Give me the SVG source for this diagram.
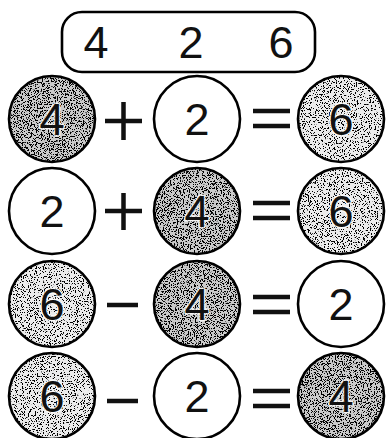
<svg xmlns="http://www.w3.org/2000/svg" width="386" height="438" viewBox="0 0 386 438">
<style>
.ring{fill:none;stroke:#000;stroke-width:2.6}
.bg{fill:#fff}
.dk{fill:#cacaca}
.lt{fill:#ebebeb}
.num{font-family:"Liberation Sans",Arial,sans-serif;font-size:45px;text-anchor:middle;fill:#111}
.halo{stroke:#fff;stroke-width:3;paint-order:stroke;stroke-linejoin:round;stroke-opacity:0.8}
.op{stroke:#111;stroke-width:4.5;fill:none}
</style>
<defs>
<filter id="sd" x="0" y="0" width="1" height="1">
<feTurbulence type="fractalNoise" baseFrequency="0.85" numOctaves="2" seed="4" result="n"/>
<feColorMatrix in="n" type="matrix" values="0 0 0 0 0 0 0 0 0 0 0 0 0 0 0 -30 0 0 0 13.7" result="d"/>
<feComposite in="d" in2="SourceGraphic" operator="in"/>
</filter>
<filter id="sl" x="0" y="0" width="1" height="1">
<feTurbulence type="fractalNoise" baseFrequency="0.85" numOctaves="2" seed="9" result="n"/>
<feColorMatrix in="n" type="matrix" values="0 0 0 0 0 0 0 0 0 0 0 0 0 0 0 -30 0 0 0 12.5" result="d"/>
<feComposite in="d" in2="SourceGraphic" operator="in"/>
</filter>
</defs>
<rect width="386" height="438" fill="#fff"/>

<g id="header">
<rect x="62" y="12" width="253" height="60" rx="20" ry="20" class="ring"/>
<text x="96" y="58" class="num">4</text>
<text x="191" y="58" class="num">2</text>
<text x="281" y="58" class="num">6</text>
</g>

<!-- Row 1: 4 + 2 = 6 -->
<g id="r1a"><circle cx="52" cy="119" r="43" class="dk"/><circle cx="52" cy="119" r="43" filter="url(#sd)"/><circle cx="52" cy="119" r="43" class="ring"/><text x="52" y="135" class="num halo">4</text></g>
<g id="r1op" class="op"><path d="M105 121H142M123.5 102V140"/></g>
<g id="r1b"><circle cx="197" cy="119" r="43" class="bg"/><circle cx="197" cy="119" r="43" class="ring"/><text x="197" y="135" class="num">2</text></g>
<g id="r1eq" class="op"><path d="M253 111H290M253 126H290"/></g>
<g id="r1c"><circle cx="341" cy="119" r="43" class="lt"/><circle cx="341" cy="119" r="43" filter="url(#sl)"/><circle cx="341" cy="119" r="43" class="ring"/><text x="341" y="135" class="num halo">6</text></g>

<!-- Row 2: 2 + 4 = 6 -->
<g id="r2a"><circle cx="52" cy="211" r="43" class="bg"/><circle cx="52" cy="211" r="43" class="ring"/><text x="52" y="227" class="num">2</text></g>
<g id="r2op" class="op"><path d="M105 211H142M123.5 193V230"/></g>
<g id="r2b"><circle cx="197" cy="211" r="43" class="dk"/><circle cx="197" cy="211" r="43" filter="url(#sd)"/><circle cx="197" cy="211" r="43" class="ring"/><text x="197" y="227" class="num halo">4</text></g>
<g id="r2eq" class="op"><path d="M253 203H290M253 218H290"/></g>
<g id="r2c"><circle cx="341" cy="211" r="43" class="lt"/><circle cx="341" cy="211" r="43" filter="url(#sl)"/><circle cx="341" cy="211" r="43" class="ring"/><text x="341" y="227" class="num halo">6</text></g>

<!-- Row 3: 6 - 4 = 2 -->
<g id="r3a"><circle cx="52" cy="304" r="43" class="lt"/><circle cx="52" cy="304" r="43" filter="url(#sl)"/><circle cx="52" cy="304" r="43" class="ring"/><text x="52" y="320" class="num halo">6</text></g>
<g id="r3op" class="op"><path d="M107 305H138"/></g>
<g id="r3b"><circle cx="197" cy="304" r="43" class="dk"/><circle cx="197" cy="304" r="43" filter="url(#sd)"/><circle cx="197" cy="304" r="43" class="ring"/><text x="197" y="320" class="num halo">4</text></g>
<g id="r3eq" class="op"><path d="M253 297H290M253 312H290"/></g>
<g id="r3c"><circle cx="341" cy="304" r="43" class="bg"/><circle cx="341" cy="304" r="43" class="ring"/><text x="341" y="320" class="num">2</text></g>

<!-- Row 4: 6 - 2 = 4 -->
<g id="r4a"><circle cx="52" cy="396" r="43" class="lt"/><circle cx="52" cy="396" r="43" filter="url(#sl)"/><circle cx="52" cy="396" r="43" class="ring"/><text x="52" y="412" class="num halo">6</text></g>
<g id="r4op" class="op"><path d="M107 401H138"/></g>
<g id="r4b"><circle cx="197" cy="396" r="43" class="bg"/><circle cx="197" cy="396" r="43" class="ring"/><text x="197" y="412" class="num">2</text></g>
<g id="r4eq" class="op"><path d="M253 391H290M253 406H290"/></g>
<g id="r4c"><circle cx="341" cy="396" r="43" class="dk"/><circle cx="341" cy="396" r="43" filter="url(#sd)"/><circle cx="341" cy="396" r="43" class="ring"/><text x="341" y="412" class="num halo">4</text></g>
</svg>
